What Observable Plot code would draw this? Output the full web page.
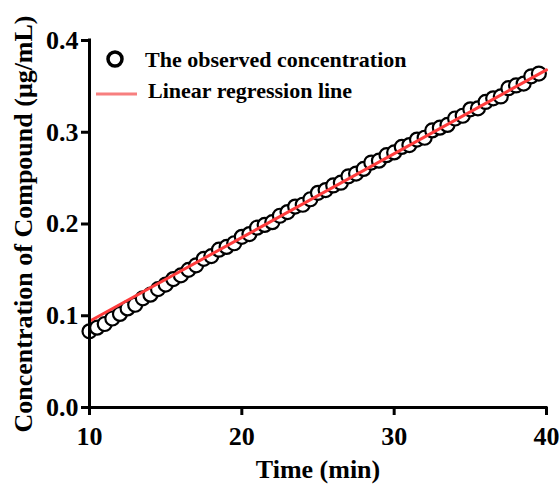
<!DOCTYPE html>
<html><head><meta charset="utf-8">
<script src="https://cdn.jsdelivr.net/npm/d3@7"></script>
<script src="https://cdn.jsdelivr.net/npm/@observablehq/plot@0.6"></script>
<style>
body{margin:0;background:#fff;}
#wrap{position:relative;width:560px;height:484px;font-family:"Liberation Serif","Times New Roman",serif;font-weight:bold;color:#000;}
.leg{position:absolute;font-size:22px;line-height:1;white-space:nowrap;}
</style></head><body><div id="wrap"></div>
<script>
const times = [10,10.5,11,11.5,12,12.5,13,13.5,14,14.5,15,15.5,16,16.5,17,17.5,18,18.5,19,19.5,
  20,20.5,21,21.5,22,22.5,23,23.5,24,24.5,25,25.5,26,26.5,27,27.5,28,28.5,29,29.5,
  30,30.5,31,31.5,32,32.5,33,33.5,34,34.5,35,35.5,36,36.5,37,37.5,38,38.5,39,39.5];
const conc = [0.083,0.087,0.091,0.097,0.102,0.108,0.112,0.119,0.123,0.129,0.134,0.140,0.144,0.150,0.155,0.162,0.165,0.172,0.175,0.179,
  0.186,0.189,0.196,0.199,0.202,0.209,0.213,0.219,0.221,0.227,0.234,0.237,0.242,0.245,0.252,0.255,0.260,0.267,0.269,0.275,
  0.278,0.284,0.286,0.292,0.294,0.302,0.305,0.308,0.315,0.318,0.325,0.326,0.333,0.337,0.339,0.348,0.351,0.353,0.361,0.364];
const fitX = [10, 40];
const fitY = [0.094, 0.368];
const xTicks = [10, 20, 30, 40];
const yTicks = [0, 0.1, 0.2, 0.3, 0.4];
const seriesNames = ["The observed concentration", "Linear regression line"];
const xTitle = "Time (min)";
const yTitle = "Concentration of Compound (μg/mL)";

const points = times.map((t, i) => ({t, c: conc[i]}));
const fit = fitX.map((t, i) => ({t, c: fitY[i]}));

const chart = Plot.plot({
  width: 560, height: 484,
  marginLeft: 89, marginRight: 14, marginTop: 40, marginBottom: 77,
  style: {fontFamily: '"Liberation Serif","Times New Roman",serif', fontWeight: "bold", fontSize: "25px", color: "#000", background: "#fff"},
  x: {domain: [10, 40]},
  y: {domain: [0, 0.4]},
  marks: [
    Plot.dot(points, {x: "t", y: "c", r: 7, fill: "white", stroke: "black", strokeWidth: 2.2}),
    Plot.line(fit, {x: "t", y: "c", stroke: "#ff3c3c", strokeWidth: 3}),
    Plot.ruleX([10], {strokeWidth: 3, strokeLinecap: "square"}),
    Plot.ruleY([0], {strokeWidth: 3, strokeLinecap: "square"}),
    Plot.axisX({ticks: xTicks, tickSize: 8, tickPadding: 11, strokeWidth: 3, fontSize: 26, tickFormat: d => d3.format("d")(d),
      label: xTitle, labelAnchor: "center", labelOffset: 70, labelArrow: "none"}),
    Plot.axisY({ticks: yTicks, tickSize: 8, tickPadding: 3, strokeWidth: 3, fontSize: 26, tickFormat: d3.format(".1f"),
      label: yTitle, labelAnchor: "center", labelOffset: 76, labelArrow: "none"})
  ]
});
const wrap = document.getElementById("wrap");
wrap.appendChild(chart);

// legend
const l1 = document.createElement("div");
l1.className = "leg"; l1.style.left = "106px"; l1.style.top = "46px";
l1.innerHTML = `<svg width="20" height="20" style="vertical-align:middle;overflow:visible"><circle cx="9" cy="10" r="7" fill="white" stroke="black" stroke-width="3.5"/></svg><span style="position:absolute;left:39px;top:3px">${seriesNames[0]}</span>`;
wrap.appendChild(l1);
const l2 = document.createElement("div");
l2.className = "leg"; l2.style.left = "96px"; l2.style.top = "80px";
l2.innerHTML = `<svg width="42" height="20" style="vertical-align:middle"><line x1="0" x2="41" y1="11" y2="11" stroke="#f77f7f" stroke-width="3"/></svg><span style="position:absolute;left:52px;top:0px">${seriesNames[1]}</span>`;
wrap.appendChild(l2);
</script></body></html>
